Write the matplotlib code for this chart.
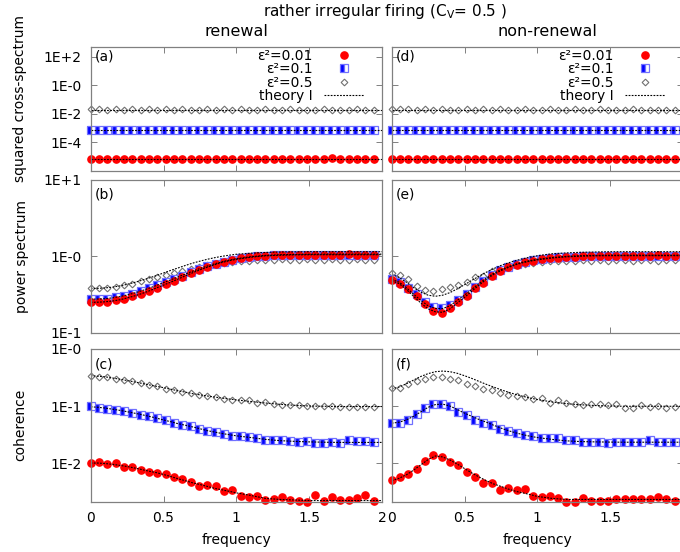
import numpy as np
import matplotlib.pyplot as plt
from matplotlib.ticker import NullLocator

# frequencies of the simulated points
freq = [0.000, 0.057, 0.114, 0.171, 0.229, 0.286, 0.343, 0.400, 0.457, 0.514,
        0.571, 0.629, 0.686, 0.743, 0.800, 0.857, 0.914, 0.971, 1.029, 1.086,
        1.143, 1.200, 1.257, 1.314, 1.371, 1.429, 1.486, 1.543, 1.600, 1.657,
        1.714, 1.771, 1.829, 1.886, 1.943]
# frequencies of the theory curves
freq_th = [0.0, 0.05, 0.1, 0.15, 0.2, 0.25, 0.3, 0.35, 0.4, 0.45, 0.5,
           0.55, 0.6, 0.65, 0.7, 0.75, 0.8, 0.85, 0.9, 0.95, 1.0,
           1.1, 1.2, 1.3, 1.4, 1.5, 1.6, 1.7, 1.8, 1.9, 2.0]

# ---- squared cross-spectrum (a: renewal, d: non-renewal)
cs_ren_001 = [6.6e-6, 6.5e-6, 6.7e-6, 6.5e-6, 6.6e-6, 6.4e-6, 6.6e-6, 6.5e-6, 6.6e-6, 6.7e-6,
              6.5e-6, 6.6e-6, 6.8e-6, 6.5e-6, 6.6e-6, 6.5e-6, 6.4e-6, 6.6e-6, 6.9e-6, 6.5e-6,
              6.6e-6, 6.5e-6, 6.4e-6, 6.6e-6, 6.5e-6, 6.6e-6, 6.4e-6, 6.5e-6, 6.6e-6, 7.2e-6,
              6.5e-6, 6.6e-6, 6.5e-6, 6.8e-6, 6.4e-6]
cs_ren_01 = [7.4e-4, 7.2e-4, 7.1e-4, 7.2e-4, 7.3e-4, 7.1e-4, 7.2e-4, 7.2e-4, 7.3e-4, 7.1e-4,
             7.2e-4, 7.3e-4, 7.1e-4, 7.2e-4, 7.2e-4, 7.1e-4, 7.3e-4, 7.2e-4, 7.1e-4, 7.2e-4,
             7.3e-4, 7.2e-4, 7.1e-4, 7.2e-4, 7.3e-4, 7.1e-4, 7.2e-4, 7.2e-4, 7.3e-4, 7.1e-4,
             7.2e-4, 7.2e-4, 7.1e-4, 7.3e-4, 7.2e-4]
cs_ren_05 = [2.05e-2, 2.0e-2, 1.95e-2, 2.0e-2, 1.97e-2, 2.0e-2, 1.95e-2, 2.0e-2, 1.97e-2, 2.0e-2,
             1.95e-2, 2.0e-2, 1.97e-2, 1.95e-2, 2.0e-2, 1.97e-2, 2.0e-2, 1.95e-2, 2.0e-2, 1.93e-2,
             1.97e-2, 2.0e-2, 1.95e-2, 1.93e-2, 2.0e-2, 1.95e-2, 1.97e-2, 1.93e-2, 2.0e-2, 1.95e-2,
             1.97e-2, 1.93e-2, 2.0e-2, 1.95e-2, 1.97e-2]
cs_non_001 = [6.9e-6, 6.7e-6, 6.6e-6, 6.6e-6, 6.7e-6, 6.8e-6, 6.5e-6, 6.6e-6, 6.5e-6, 6.4e-6,
              6.2e-6, 6.4e-6, 6.6e-6, 6.7e-6, 7.0e-6, 6.5e-6, 6.6e-6, 6.6e-6, 6.5e-6, 6.6e-6,
              6.5e-6, 6.4e-6, 6.8e-6, 6.6e-6, 6.5e-6, 6.4e-6, 6.5e-6, 6.6e-6, 6.5e-6, 6.6e-6,
              6.5e-6, 6.8e-6, 6.6e-6, 6.5e-6, 6.4e-6]
cs_non_01 = [7.6e-4, 7.2e-4, 7.2e-4, 7.1e-4, 7.2e-4, 7.3e-4, 7.1e-4, 7.2e-4, 7.2e-4, 7.3e-4,
             7.1e-4, 7.2e-4, 7.2e-4, 7.1e-4, 7.3e-4, 7.2e-4, 7.1e-4, 7.2e-4, 7.3e-4, 7.2e-4,
             7.1e-4, 7.2e-4, 7.2e-4, 7.3e-4, 7.1e-4, 7.2e-4, 7.2e-4, 7.3e-4, 7.1e-4, 7.2e-4,
             7.2e-4, 7.3e-4, 7.1e-4, 7.2e-4, 7.2e-4]
cs_non_05 = [2.1e-2, 2.0e-2, 2.05e-2, 1.97e-2, 2.0e-2, 1.95e-2, 2.0e-2, 1.97e-2, 1.95e-2, 2.0e-2,
             1.97e-2, 2.0e-2, 1.95e-2, 2.0e-2, 1.97e-2, 1.95e-2, 2.0e-2, 1.97e-2, 1.95e-2, 2.0e-2,
             1.93e-2, 1.97e-2, 2.0e-2, 1.95e-2, 1.93e-2, 2.0e-2, 1.95e-2, 1.97e-2, 1.93e-2, 2.0e-2,
             1.95e-2, 1.93e-2, 1.97e-2, 1.95e-2, 1.97e-2]
cs_th_001 = 6.6e-6
cs_th_01 = 7.2e-4
cs_th_05 = 1.95e-2

# ---- power spectrum (b: renewal, e: non-renewal)
ps_ren_001 = [0.25, 0.25, 0.255, 0.265, 0.28, 0.30, 0.32, 0.35, 0.39, 0.43,
              0.48, 0.54, 0.60, 0.67, 0.73, 0.79, 0.85, 0.90, 0.94, 0.98,
              1.00, 1.02, 1.03, 1.04, 1.05, 1.04, 1.05, 1.05, 1.04, 1.05,
              1.05, 1.06, 1.05, 1.04, 1.05]
ps_ren_01 = [0.275, 0.275, 0.28, 0.29, 0.305, 0.325, 0.35, 0.38, 0.42, 0.46,
             0.51, 0.56, 0.62, 0.68, 0.74, 0.80, 0.85, 0.90, 0.94, 0.98,
             1.00, 1.02, 1.03, 1.04, 1.04, 1.05, 1.04, 1.05, 1.05, 1.04,
             1.05, 1.05, 1.04, 1.05, 1.05]
ps_ren_05 = [0.38, 0.38, 0.39, 0.40, 0.42, 0.44, 0.47, 0.50, 0.53, 0.57,
             0.61, 0.65, 0.69, 0.73, 0.77, 0.80, 0.83, 0.85, 0.87, 0.88,
             0.89, 0.90, 0.90, 0.91, 0.90, 0.90, 0.91, 0.90, 0.90, 0.91,
             0.90, 0.90, 0.91, 0.90, 0.90]
ps_ren_th_001 = [0.25, 0.251, 0.254, 0.26, 0.27, 0.285, 0.303, 0.325, 0.352, 0.385, 0.42,
                 0.46, 0.505, 0.555, 0.61, 0.665, 0.72, 0.775, 0.83, 0.875, 0.915,
                 0.975, 1.015, 1.035, 1.045, 1.05, 1.05, 1.05, 1.05, 1.05, 1.05]
ps_ren_th_01 = [0.275, 0.276, 0.279, 0.286, 0.297, 0.312, 0.331, 0.354, 0.382, 0.415, 0.452,
                0.493, 0.538, 0.587, 0.64, 0.693, 0.745, 0.797, 0.848, 0.892, 0.93,
                0.99, 1.03, 1.05, 1.06, 1.065, 1.07, 1.07, 1.07, 1.07, 1.07]
ps_ren_th_05 = [0.38, 0.381, 0.386, 0.395, 0.41, 0.43, 0.455, 0.485, 0.52, 0.56, 0.605,
                0.655, 0.705, 0.76, 0.815, 0.865, 0.915, 0.96, 1.0, 1.035, 1.065,
                1.1, 1.125, 1.14, 1.145, 1.15, 1.15, 1.15, 1.15, 1.15, 1.15]

ps_non_001 = [0.485, 0.44, 0.37, 0.30, 0.235, 0.19, 0.183, 0.21, 0.25, 0.30,
              0.38, 0.45, 0.56, 0.65, 0.72, 0.78, 0.84, 0.88, 0.91, 0.94,
              0.96, 0.98, 0.99, 1.00, 1.01, 1.01, 1.02, 1.02, 1.02, 1.02,
              1.02, 1.02, 1.03, 1.02, 1.02]
ps_non_01 = [0.50, 0.46, 0.39, 0.32, 0.255, 0.215, 0.21, 0.23, 0.27, 0.32,
             0.40, 0.47, 0.57, 0.66, 0.73, 0.79, 0.85, 0.89, 0.92, 0.95,
             0.97, 0.98, 0.99, 1.00, 1.01, 1.01, 1.02, 1.01, 1.02, 1.02,
             1.01, 1.02, 1.02, 1.02, 1.02]
ps_non_05 = [0.61, 0.575, 0.50, 0.41, 0.36, 0.35, 0.37, 0.40, 0.42, 0.46,
             0.53, 0.56, 0.64, 0.68, 0.72, 0.76, 0.79, 0.82, 0.84, 0.86,
             0.87, 0.88, 0.88, 0.89, 0.88, 0.89, 0.88, 0.89, 0.89, 0.88,
             0.89, 0.89, 0.88, 0.89, 0.89]
ps_non_th_001 = [0.48, 0.44, 0.37, 0.30, 0.245, 0.205, 0.188, 0.185, 0.205, 0.245, 0.29,
                 0.35, 0.42, 0.50, 0.58, 0.65, 0.715, 0.775, 0.825, 0.865, 0.90,
                 0.95, 0.985, 1.005, 1.015, 1.02, 1.02, 1.02, 1.02, 1.02, 1.02]
ps_non_th_01 = [0.50, 0.46, 0.39, 0.32, 0.265, 0.225, 0.208, 0.207, 0.225, 0.265, 0.31,
                0.37, 0.44, 0.52, 0.60, 0.67, 0.73, 0.79, 0.84, 0.88, 0.915,
                0.965, 1.0, 1.02, 1.03, 1.035, 1.035, 1.035, 1.035, 1.035, 1.035]
ps_non_th_05 = [0.58, 0.53, 0.46, 0.39, 0.34, 0.31, 0.30, 0.31, 0.335, 0.375, 0.425,
                0.485, 0.55, 0.62, 0.69, 0.76, 0.82, 0.88, 0.93, 0.98, 1.02,
                1.08, 1.11, 1.13, 1.14, 1.15, 1.15, 1.15, 1.15, 1.15, 1.15]

# ---- coherence (c: renewal, f: non-renewal)
coh_ren_001 = [0.0099, 0.0103, 0.0097, 0.0101, 0.0084, 0.0085, 0.0076, 0.0071, 0.0068, 0.0064,
               0.0056, 0.0052, 0.0046, 0.0040, 0.0042, 0.0039, 0.0032, 0.0034, 0.00266, 0.0025,
               0.0026, 0.00226, 0.0023, 0.0025, 0.00226, 0.0022, 0.0021, 0.00275, 0.00215, 0.0025,
               0.00225, 0.00225, 0.0024, 0.00275, 0.0022]
coh_ren_01 = [0.100, 0.092, 0.088, 0.084, 0.083, 0.076, 0.070, 0.067, 0.062, 0.056,
              0.051, 0.047, 0.0445, 0.040, 0.0367, 0.0344, 0.0326, 0.0304, 0.0296, 0.0284,
              0.0275, 0.0255, 0.0255, 0.0255, 0.0245, 0.0238, 0.0245, 0.0226, 0.0228, 0.0230,
              0.0222, 0.0250, 0.0245, 0.0240, 0.0235]
coh_ren_05 = [0.34, 0.325, 0.32, 0.30, 0.29, 0.27, 0.255, 0.23, 0.22, 0.20,
              0.19, 0.177, 0.17, 0.158, 0.15, 0.142, 0.135, 0.13, 0.128, 0.125,
              0.115, 0.118, 0.11, 0.103, 0.105, 0.105, 0.100, 0.100, 0.100, 0.100,
              0.095, 0.095, 0.095, 0.095, 0.097]
coh_ren_th_001 = [0.0100, 0.0100, 0.0098, 0.0095, 0.0091, 0.0087, 0.0082, 0.0077, 0.0072, 0.0068, 0.0063,
                  0.0058, 0.0053, 0.0049, 0.0045, 0.0042, 0.0039, 0.0036, 0.0034, 0.0032, 0.0030,
                  0.0027, 0.0024, 0.0023, 0.00225, 0.0022, 0.0022, 0.0022, 0.0022, 0.0022, 0.0022]
coh_ren_th_01 = [0.097, 0.095, 0.092, 0.088, 0.084, 0.0795, 0.075, 0.0705, 0.066, 0.0615, 0.057,
                 0.053, 0.049, 0.046, 0.043, 0.040, 0.037, 0.035, 0.033, 0.0315, 0.030,
                 0.028, 0.026, 0.0247, 0.024, 0.0235, 0.0232, 0.023, 0.023, 0.023, 0.023]
coh_ren_th_05 = [0.34, 0.333, 0.325, 0.31, 0.295, 0.28, 0.265, 0.25, 0.235, 0.222, 0.21,
                 0.197, 0.185, 0.175, 0.165, 0.157, 0.15, 0.144, 0.138, 0.133, 0.128,
                 0.12, 0.113, 0.107, 0.103, 0.10, 0.099, 0.098, 0.098, 0.098, 0.098]

coh_non_001 = [0.0051, 0.0056, 0.0064, 0.0079, 0.0107, 0.0141, 0.0126, 0.0103, 0.0093, 0.0071,
               0.0056, 0.0044, 0.0044, 0.0034, 0.0036, 0.0034, 0.0035, 0.0026, 0.0025, 0.0026,
               0.0024, 0.0021, 0.0021, 0.0024, 0.0022, 0.0022, 0.0022, 0.0023, 0.0023, 0.0023,
               0.0023, 0.0023, 0.0025, 0.0023, 0.0022]
coh_non_01 = [0.050, 0.050, 0.058, 0.073, 0.093, 0.110, 0.110, 0.099, 0.078, 0.0686,
              0.058, 0.050, 0.0457, 0.040, 0.036, 0.034, 0.0316, 0.0296, 0.0273, 0.027,
              0.027, 0.025, 0.025, 0.023, 0.023, 0.023, 0.0226, 0.0238, 0.023, 0.023,
              0.0238, 0.025, 0.0238, 0.023, 0.0238]
coh_non_05 = [0.21, 0.205, 0.24, 0.276, 0.30, 0.325, 0.32, 0.30, 0.284, 0.248,
              0.222, 0.197, 0.19, 0.17, 0.155, 0.15, 0.145, 0.135, 0.14, 0.115,
              0.125, 0.112, 0.11, 0.105, 0.107, 0.108, 0.105, 0.107, 0.094, 0.091,
              0.105, 0.098, 0.100, 0.091, 0.098]
coh_non_th_001 = [0.0049, 0.0054, 0.0062, 0.0075, 0.0093, 0.0115, 0.0133, 0.0128, 0.0113, 0.0096, 0.0080,
                  0.0067, 0.0057, 0.0049, 0.0043, 0.0039, 0.0035, 0.0032, 0.0030, 0.0028, 0.0026,
                  0.0024, 0.0023, 0.0023, 0.0023, 0.0023, 0.0023, 0.0023, 0.0023, 0.0023, 0.0023]
coh_non_th_01 = [0.050, 0.052, 0.057, 0.066, 0.079, 0.095, 0.106, 0.108, 0.100, 0.087, 0.075,
                 0.066, 0.058, 0.052, 0.046, 0.041, 0.037, 0.034, 0.0315, 0.0295, 0.028,
                 0.026, 0.0245, 0.0238, 0.0235, 0.0233, 0.0232, 0.0232, 0.0232, 0.0232, 0.0232]
coh_non_th_05 = [0.20, 0.215, 0.245, 0.285, 0.33, 0.37, 0.40, 0.41, 0.40, 0.375, 0.34,
                 0.305, 0.27, 0.24, 0.215, 0.193, 0.175, 0.16, 0.148, 0.138, 0.13,
                 0.118, 0.11, 0.105, 0.102, 0.10, 0.099, 0.099, 0.099, 0.099, 0.099]

eps_labels = ['ε²=0.01', 'ε²=0.1', 'ε²=0.5']
x_ticks = [0, 0.5, 1, 1.5, 2]
x_ticklabels = ['0', '0.5', '1', '1.5', '2']

RED = '#ff0000'
BLUE = '#0000ff'
GRAY = '#707070'
FRAME = '#808080'

W, H = 680, 552
fig = plt.figure(figsize=(W / 100, H / 100), dpi=100)


def add_axes(x0, y0, x1, y1):
    # pixel box (from top-left) -> figure fraction
    return fig.add_axes([x0 / W, 1 - y1 / H, (x1 - x0) / W, (y1 - y0) / H])


def style(ax, yticks, yticklabels, ylim, show_x, show_y):
    ax.set_xlim(0, 2)
    ax.set_yscale('log')
    ax.set_ylim(*ylim)
    ax.set_xticks(x_ticks)
    ax.set_xticklabels(x_ticklabels)
    ax.set_yticks(yticks)
    ax.set_yticklabels(yticklabels)
    ax.yaxis.set_minor_locator(NullLocator())
    ax.tick_params(which='both', direction='in', top=True, right=True,
                   length=4, width=0.7, color=FRAME, labelsize=10, pad=6.5,
                   labelbottom=show_x, labelleft=show_y)
    for sp in ax.spines.values():
        sp.set_color(FRAME)
        sp.set_linewidth(0.9)


def draw_points(ax, s001, s01, s05):
    h05, = ax.plot(freq, s05, ls='none', marker='D', ms=3.4, mfc='white',
                   mec=GRAY, mew=0.8, clip_on=False, label=eps_labels[2])
    h01, = ax.plot(freq, s01, ls='none', marker='s', ms=5.6, fillstyle='left',
                   mfc=BLUE, markerfacecoloralt='white', mec='#7070ff', mew=0.9,
                   clip_on=False, label=eps_labels[1])
    h001, = ax.plot(freq, s001, ls='none', marker='o', ms=5.2, color=RED,
                    mec=RED, clip_on=False, label=eps_labels[0])
    return [h001, h01, h05]


TH_STYLE = dict(color='black', lw=0.8, ls=(0, (1.6, 1.2)))


def draw_theory(ax, curves):
    for c in curves:
        ax.plot(freq_th, c, **TH_STYLE)


def add_legend(ax, handles):
    th, = ax.plot([], [], label='theory I', **TH_STYLE)
    ax.legend(handles=handles + [th], loc='upper right',
              bbox_to_anchor=(1 - 18 / 291.3, 1 - 2 / 123.7),
              frameon=False, markerfirst=False, numpoints=1, fontsize=10,
              handlelength=2.88, handletextpad=0.8, labelspacing=-0.05,
              borderpad=0, borderaxespad=0)


def panel_tag(ax, tag, dy_px, height_px):
    ax.text(0.015, 1 - dy_px / height_px, tag, transform=ax.transAxes,
            ha='left', va='center', fontsize=10)


LX0, LX1 = 90.7, 382.0
RX0, RX1 = 391.7, 683.0
rows = [(47.0, 170.7), (180.0, 332.7), (349.0, 501.7)]

ax_a = add_axes(LX0, rows[0][0], LX1, rows[0][1])
ax_d = add_axes(RX0, rows[0][0], RX1, rows[0][1])
ax_b = add_axes(LX0, rows[1][0], LX1, rows[1][1])
ax_e = add_axes(RX0, rows[1][0], RX1, rows[1][1])
ax_c = add_axes(LX0, rows[2][0], LX1, rows[2][1])
ax_f = add_axes(RX0, rows[2][0], RX1, rows[2][1])

# squared cross-spectrum
for ax, data, show_y in [(ax_a, (cs_ren_001, cs_ren_01, cs_ren_05), True),
                         (ax_d, (cs_non_001, cs_non_01, cs_non_05), False)]:
    handles = draw_points(ax, *data)
    for lev in (cs_th_001, cs_th_01, cs_th_05):
        ax.axhline(lev, **TH_STYLE)
    style(ax, [1e2, 1, 1e-2, 1e-4], ['1E+2', '1E-0', '1E-2', '1E-4'],
          (1e-6, 480), False, show_y)
    add_legend(ax, handles)

# power spectrum
draw_points(ax_b, ps_ren_001, ps_ren_01, ps_ren_05)
draw_theory(ax_b, [ps_ren_th_001, ps_ren_th_01, ps_ren_th_05])
draw_points(ax_e, ps_non_001, ps_non_01, ps_non_05)
draw_theory(ax_e, [ps_non_th_001, ps_non_th_01, ps_non_th_05])
for ax, show_y in [(ax_b, True), (ax_e, False)]:
    style(ax, [10, 1, 0.1], ['1E+1', '1E-0', '1E-1'], (0.1, 10), False, show_y)

# coherence
draw_points(ax_c, coh_ren_001, coh_ren_01, coh_ren_05)
draw_theory(ax_c, [coh_ren_th_001, coh_ren_th_01, coh_ren_th_05])
draw_points(ax_f, coh_non_001, coh_non_01, coh_non_05)
draw_theory(ax_f, [coh_non_th_001, coh_non_th_01, coh_non_th_05])
for ax, show_y in [(ax_c, True), (ax_f, False)]:
    style(ax, [1, 0.1, 0.01], ['1E-0', '1E-1', '1E-2'], (2.1e-3, 1), True, show_y)
    ax.set_xlabel('frequency', fontsize=10, labelpad=6)

panel_tag(ax_a, '(a)', 10, 123.7)
panel_tag(ax_d, '(d)', 10, 123.7)
panel_tag(ax_b, '(b)', 15, 152.7)
panel_tag(ax_e, '(e)', 15, 152.7)
panel_tag(ax_c, '(c)', 15, 152.7)
panel_tag(ax_f, '(f)', 15, 152.7)

fig.text(385 / W, 1 - 11.5 / H, 'rather irregular firing (C$_\\mathrm{V}$= 0.5 )',
         ha='center', va='center', fontsize=11)
fig.text(236.5 / W, 1 - 31 / H, 'renewal', ha='center', va='center', fontsize=11.5)
fig.text(547 / W, 1 - 31 / H, 'non-renewal', ha='center', va='center', fontsize=11.5)

fig.text(20 / W, 1 - 99 / H, 'squared cross-spectrum', rotation=90,
         ha='center', va='center', fontsize=10)
fig.text(22 / W, 1 - 256 / H, 'power spectrum', rotation=90,
         ha='center', va='center', fontsize=10)
fig.text(20 / W, 1 - 425 / H, 'coherence', rotation=90,
         ha='center', va='center', fontsize=10)

fig.savefig('out.png', dpi=100, facecolor='white')
